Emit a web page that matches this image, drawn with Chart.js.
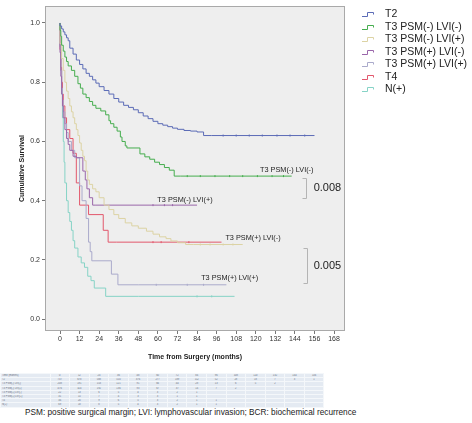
<!DOCTYPE html>
<html><head><meta charset="utf-8">
<script src="https://cdn.jsdelivr.net/npm/chart.js@4.4.0/dist/chart.umd.min.js"></script>
<style>
html,body{margin:0;padding:0;background:#fff;width:472px;height:423px;overflow:hidden;font-family:"Liberation Sans",Arial,sans-serif;}
#c{position:absolute;left:0;top:0;}
#tbl{position:absolute;left:0;top:373px;border-collapse:collapse;table-layout:fixed;color:#6a7080;}
#tbl td{height:3.2px;line-height:3.2px;font-size:2.6px;padding:0 1px;border:0.5px solid #f4f7fa;background:#e4eaf2;text-align:center;overflow:hidden;white-space:nowrap;}
#tbl td.h{text-align:left;}
#note{position:absolute;left:25px;top:408px;font-size:8.25px;color:#222;white-space:nowrap;line-height:10px;}
</style></head>
<body>
<canvas id="c" width="472" height="365"></canvas>
<table id="tbl"></table>
<div id="note">PSM: positive surgical margin; LVI: lymphovascular invasion; BCR: biochemical recurrence</div>
<script>
// ---- data ----
const seriesNames = ['T2','T3 PSM(-) LVI(-)','T3 PSM(-) LVI(+)','T3 PSM(+) LVI(-)','T3 PSM(+) LVI(+)','T4','N(+)'];
const T2_t = [0,1,2,3,4,5,6,8,10,12,14,16,18,20,22,24,27,30,33,36,39,42,45,48,51,54,57,60,63,66,69,72,76,80,84,88,93,156];
const T2_s = [1,0.99,0.98,0.97,0.96,0.95,0.94,0.915,0.895,0.875,0.86,0.845,0.83,0.82,0.808,0.797,0.785,0.772,0.76,0.745,0.733,0.722,0.715,0.707,0.697,0.686,0.677,0.668,0.66,0.655,0.65,0.645,0.641,0.637,0.635,0.632,0.62,0.62];
const NN_t = [0,0.5,1,2,3,4,5,7,9,11,12.5,14,16,18,20,22,25,28,30,31,33,35,37,38,40,41,49,52,55,58,61,64,67,70,74,142];
const NN_s = [1,0.975,0.955,0.925,0.905,0.885,0.87,0.855,0.84,0.82,0.795,0.78,0.76,0.748,0.735,0.722,0.712,0.703,0.69,0.67,0.66,0.648,0.635,0.615,0.6,0.585,0.578,0.558,0.548,0.54,0.53,0.522,0.512,0.503,0.483,0.483];
const NP_t = [0,1,2,3,4,5,6,7,8,9,10,11,12,13,14,15,16,17,18,20,22,24,27,30,33,36,40,44,48,53,57,61,65,68,72,77,82,112];
const NP_s = [1,0.93,0.88,0.84,0.8,0.77,0.745,0.72,0.7,0.68,0.66,0.64,0.62,0.595,0.57,0.55,0.535,0.5,0.47,0.455,0.44,0.43,0.41,0.385,0.37,0.353,0.34,0.325,0.315,0.307,0.297,0.287,0.278,0.272,0.264,0.258,0.252,0.252];
const PN_t = [0,0.5,1,1.5,2,3,4,5,6,8,10,14,15.5,16.5,18,20,22,84];
const PN_s = [1,0.9,0.82,0.76,0.72,0.68,0.64,0.61,0.59,0.57,0.55,0.545,0.5,0.47,0.44,0.41,0.385,0.385];
const PP_t = [0,0.5,1,1.5,2,3,4,5,7,9,12,13.5,16,17.5,18.5,19.5,31.5,35.5,48,102];
const PP_s = [1,0.92,0.84,0.78,0.74,0.7,0.66,0.63,0.6,0.57,0.545,0.45,0.4,0.34,0.26,0.228,0.197,0.152,0.116,0.116];
const T4_t = [0,0.5,1,1.5,2,3,4,6,8,10,12,17.5,26.5,29.5,34.5,99];
const T4_s = [1,0.91,0.85,0.8,0.76,0.72,0.68,0.64,0.61,0.56,0.46,0.385,0.353,0.30,0.26,0.26];
const N1_t = [0,0.5,1,1.5,2,2.5,3,4,5,6,7,8,9,11,13,15,17,19,21,28,48,107];
const N1_s = [1,0.92,0.84,0.76,0.68,0.6,0.53,0.46,0.4,0.36,0.33,0.3,0.265,0.24,0.21,0.19,0.175,0.145,0.13,0.105,0.077,0.077];
// censoring times (marks)
const T2_c = [100,108,116,124,133,141,150];
const NN_c = [78,86,95,104,112,121,130,137];
const NP_c = [86,92,100,106];
const PN_c = [57,64,69];
const PP_c = [59,78,88];
const T4_c = [57,62,79];
const N1_c = [84,93];
const seriesTimes = [T2_t,NN_t,NP_t,PN_t,PP_t,T4_t,N1_t];
const seriesSurv = [T2_s,NN_s,NP_s,PN_s,PP_s,T4_s,N1_s];
const seriesCens = [T2_c,NN_c,NP_c,PN_c,PP_c,T4_c,N1_c];
const seriesColors = ['#5b6bb6','#45ad4e','#dcd3a4','#9a66aa','#aaaacb','#e2576c','#86d3c6'];
const xTicks = [0,12,24,36,48,60,72,84,96,108,120,132,144,156,168];
const yTicks = [0,0.2,0.4,0.6,0.8,1.0];
const yTickLabels = ['0.0','0.2','0.4','0.6','0.8','1.0'];
const curveLabels = ['T3 PSM(-) LVI(-)','T3 PSM(-) LVI(+)','T3 PSM(+) LVI(-)','T3 PSM(+) LVI(+)'];
const pValues = ['0.008','0.005'];
// number-at-risk table
const riskHeader = ['Time (months)',0,12,24,36,48,60,72,84,96,108,120,132,144,156];
const riskT2 = [737,678,588,510,376,277,189,112,52,28,18,7,3,1];
const riskNN = [208,191,153,121,91,66,44,28,13,6,5,2,'',''];
const riskNP = [476,324,192,136,93,67,37,14,7,2,'','','',''];
const riskPN = [22,13,6,5,4,3,2,1,'','','','','',''];
const riskPP = [31,15,7,4,3,3,1,1,'','','','','',''];
const riskT4 = [34,20,9,6,5,3,2,1,1,'','','','',''];
const riskN1 = [69,18,8,5,4,3,2,1,1,'','','','',''];
const riskRows = [riskT2,riskNN,riskNP,riskPN,riskPP,riskT4,riskN1];

// ---- table ----
(function(){
  const tbl = document.getElementById('tbl');
  let html = '<colgroup><col style="width:49.5px">' + riskHeader.slice(1).map(()=>'<col style="width:19.57px">').join('') + '</colgroup>';
  html += '<tr>' + riskHeader.map((v,i)=>'<td'+(i===0?' class="h"':'')+'>'+v+'</td>').join('') + '</tr>';
  riskRows.forEach((r,k)=>{
    html += '<tr><td class="h">'+seriesNames[k]+'</td>' + r.map(v=>'<td>'+v+'</td>').join('') + '</tr>';
  });
  tbl.innerHTML = html;
})();

// ---- chart ----
function survAt(k,t){ const ts=seriesTimes[k], ss=seriesSurv[k]; let v=ss[0]; for(let i=0;i<ts.length;i++){ if(ts[i]<=t) v=ss[i]; } return v; }
const datasets = seriesNames.map((n,k)=>({
  label:n,
  data: seriesTimes[k].map((t,i)=>({x:t,y:seriesSurv[k][i]})),
  stepped:'after', borderColor:seriesColors[k], borderWidth:1, pointRadius:0, fill:false
}));
seriesNames.forEach((n,k)=>{
  datasets.push({
    label:n+' censored', type:'scatter',
    data: seriesCens[k].map(t=>({x:t,y:survAt(k,t)})),
    showLine:false, pointStyle:'line', rotation:90, pointRadius:1, borderWidth:1,
    borderColor:seriesColors[k], backgroundColor:seriesColors[k]
  });
});

const bgPlugin = {
  id:'bg',
  beforeDraw(chart){
    const {ctx,chartArea:a} = chart;
    ctx.save(); ctx.fillStyle='#eeeeee'; ctx.fillRect(a.left,a.top,a.right-a.left,a.bottom-a.top); ctx.restore();
  },
  afterDraw(chart){
    const {ctx,chartArea:a,scales:{x,y}} = chart;
    ctx.save();
    ctx.strokeStyle='#a9a9a9'; ctx.lineWidth=1;
    ctx.strokeRect(Math.round(a.left)+0.5,Math.round(a.top)+0.5,Math.round(a.right-a.left)-1,Math.round(a.bottom-a.top)-1);
    // curve labels
    ctx.fillStyle='#222'; ctx.font='7.3px "Liberation Sans", Arial, sans-serif';
    ctx.textAlign='center'; ctx.textBaseline='middle';
    const lp = [[139,0.503],[76.6,0.403],[118.3,0.273],[104,0.14]];
    curveLabels.forEach((t,i)=>ctx.fillText(t,x.getPixelForValue(lp[i][0]),y.getPixelForValue(lp[i][1])));
    // p values
    ctx.font='11px "Liberation Sans", Arial, sans-serif'; ctx.textAlign='left';
    const pp = [[155.5,0.443],[155.5,0.18]];
    pValues.forEach((t,i)=>ctx.fillText(t,x.getPixelForValue(pp[i][0]),y.getPixelForValue(pp[i][1])));
    // brackets
    ctx.strokeStyle='#b4b4b4'; ctx.lineWidth=1;
    const br = [[150.8,0.477,0.41],[151.2,0.24,0.123]];
    br.forEach(b=>{
      const bx = Math.round(x.getPixelForValue(b[0]))+0.5;
      const y1 = Math.round(y.getPixelForValue(b[1]))+0.5, y2 = Math.round(y.getPixelForValue(b[2]))+0.5;
      ctx.beginPath(); ctx.moveTo(bx-4,y1); ctx.lineTo(bx,y1); ctx.lineTo(bx,y2); ctx.lineTo(bx-4,y2); ctx.stroke();
    });
    // legend
    ctx.font='10.5px "Liberation Sans", Arial, sans-serif'; ctx.textAlign='left'; ctx.textBaseline='middle';
    seriesNames.forEach((n,i)=>{
      const ly = Math.round(14 + i*12.5);
      ctx.strokeStyle=seriesColors[i]; ctx.lineWidth=1;
      ctx.beginPath(); ctx.moveTo(362,ly+2.5); ctx.lineTo(367.5,ly+2.5); ctx.lineTo(367.5,ly-1.5); ctx.lineTo(373.5,ly-1.5); ctx.lineTo(373.5,ly+0.5); ctx.stroke();
      ctx.fillStyle='#222'; ctx.fillText(n,385,ly);
    });
    ctx.restore();
  }
};

new Chart(document.getElementById('c'),{
  type:'line',
  data:{datasets},
  options:{
    responsive:false, animation:false, devicePixelRatio:1,
    layout:{padding:{left:0,top:2,right:127,bottom:0}},
    plugins:{legend:{display:false},tooltip:{enabled:false}},
    scales:{
      x:{type:'linear',min:-9.2,max:174.7,
        afterBuildTicks:s=>{s.ticks=xTicks.map(v=>({value:v}));},
        afterFit:s=>{s.height=34;},
        ticks:{font:{size:7,family:'"Liberation Sans", Arial, sans-serif'},color:'#333',maxRotation:0,autoSkip:false,padding:1,callback:v=>String(v)},
        grid:{display:true,drawOnChartArea:false,tickLength:3,color:'#777'},
        border:{display:false},
        title:{display:true,text:'Time from Surgery (months)',font:{size:7,weight:'bold',family:'"Liberation Sans", Arial, sans-serif'},color:'#222',padding:{top:0,bottom:4}}
      },
      y:{type:'linear',min:-0.04,max:1.0567,
        afterBuildTicks:s=>{s.ticks=yTicks.map(v=>({value:v}));},
        afterFit:s=>{s.width=45;},
        ticks:{font:{size:7,family:'"Liberation Sans", Arial, sans-serif'},color:'#333',padding:2,callback:(v)=>{const i=yTicks.findIndex(t=>Math.abs(t-v)<1e-6);return i>=0?yTickLabels[i]:'';}},
        grid:{display:true,drawOnChartArea:false,tickLength:3,color:'#777'},
        border:{display:false},
        title:{display:true,text:'Cumulative Survival',font:{size:7,weight:'bold',family:'"Liberation Sans", Arial, sans-serif'},color:'#222',padding:{top:18,bottom:0}}
      }
    }
  },
  plugins:[bgPlugin]
});
</script>
</body></html>
